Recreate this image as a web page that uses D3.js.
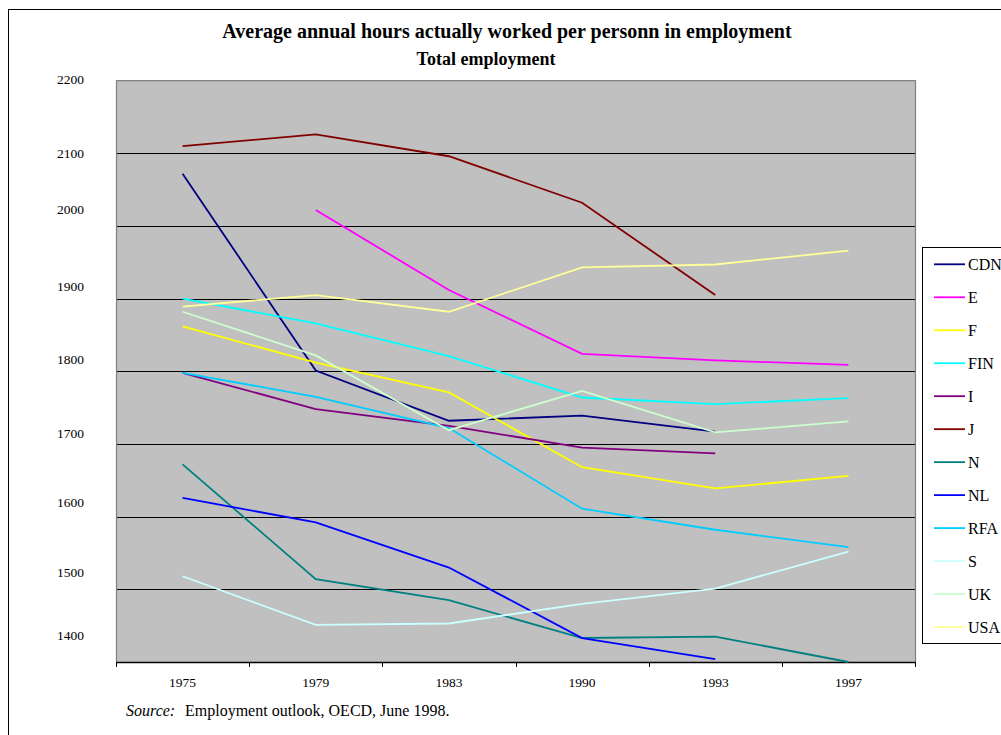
<!DOCTYPE html>
<html>
<head>
<meta charset="utf-8">
<script src="https://cdn.jsdelivr.net/npm/d3@7"></script>
<style>
  html, body { margin: 0; padding: 0; background: #fff; overflow: hidden; }
  svg { display: block; font-family: "Liberation Serif", "Times New Roman", serif; }
</style>
</head>
<body>
<svg id="chart" width="1001" height="735"></svg>
<script>
// Survey years on the category axis
const years = ["1975", "1979", "1983", "1990", "1993", "1997"];

// Country codes, in legend order
const countries = ["CDN", "E", "F", "FIN", "I", "J", "N", "NL", "RFA", "S", "UK", "USA"];

// Average annual hours per person in employment (null = not reported)
const hoursCDN = [2072, 1801, 1732, 1739, 1717, null];
const hoursE   = [null, 2022, 1912, 1824, 1815, 1809];
const hoursF   = [1862, 1812, 1771, 1668, 1639, 1656];
const hoursFIN = [1900, 1866, 1821, 1764, 1755, 1763];
const hoursI   = [1798, 1748, 1725, 1695, 1687, null];
const hoursJ   = [2110, 2126, 2096, 2032, 1905, null];
const hoursN   = [1672, 1514, 1485, 1433, 1435, 1400];
const hoursNL  = [1626, 1592, 1530, 1433, 1404, null];
const hoursRFA = [1798, 1765, 1722, 1611, 1582, 1558];
const hoursS   = [1518, 1451, 1453, 1480, 1501, 1552];
const hoursUK  = [1882, 1822, 1719, 1773, 1716, 1731];
const hoursUSA = [1889, 1905, 1882, 1943, 1947, 1966];

// Value-axis tick labels
const yTicks = [1400, 1500, 1600, 1700, 1800, 1900, 2000, 2100, 2200];

const seriesValues = [hoursCDN, hoursE, hoursF, hoursFIN, hoursI, hoursJ,
                      hoursN, hoursNL, hoursRFA, hoursS, hoursUK, hoursUSA];
const seriesColors = ["#000080", "#ff00ff", "#ffff00", "#00ffff", "#800080", "#800000",
                      "#008080", "#0000ff", "#00ccff", "#ccffff", "#ccffcc", "#ffff99"];

const series = countries.map((c, i) => ({
  name: c,
  color: seriesColors[i],
  values: years.map((y, j) => ({ year: y, value: seriesValues[i][j] }))
}));

const svg = d3.select("#chart");

// Outer frame of the chart sheet
svg.append("rect")
  .attr("x", 8.5).attr("y", 9.5)
  .attr("width", 1100).attr("height", 800)
  .attr("fill", "#fff").attr("stroke", "#000").attr("stroke-width", 1);

const plot = { left: 116, right: 915, top: 80.67, bottom: 662 };

const x = d3.scaleBand().domain(years).range([plot.left, plot.right]).paddingInner(0).paddingOuter(0);
const y = d3.scaleLinear().domain([1400, 2200]).range([plot.bottom, plot.top]);
const cx = d => x(d) + x.bandwidth() / 2;

// Plot background
svg.append("rect")
  .attr("x", plot.left).attr("y", plot.top)
  .attr("width", plot.right - plot.left).attr("height", plot.bottom - plot.top)
  .attr("fill", "#c0c0c0");

// Horizontal gridlines
svg.append("g").selectAll("line")
  .data(yTicks.filter(v => v > 1400 && v < 2200))
  .join("line")
  .attr("x1", plot.left).attr("x2", plot.right)
  .attr("y1", d => Math.round(y(d)) + 0.5).attr("y2", d => Math.round(y(d)) + 0.5)
  .attr("stroke", "#000").attr("stroke-width", 1);

// Plot border (left, top, right)
svg.append("path")
  .attr("d", `M${plot.left + 0.5},${plot.bottom}V${plot.top}H${plot.right + 0.5}V${plot.bottom}`)
  .attr("fill", "none").attr("stroke", "#808080").attr("stroke-width", 1.2);

// Value axis labels; the labels sit slightly off their gridlines
const labelNudge = { 2200: -1.4, 2100: 0, 2000: -17, 1900: -12, 1800: -12, 1700: -10.7, 1600: -14, 1500: -17, 1400: -27 };
const yAxis = svg.append("g")
  .attr("transform", `translate(${plot.left},0)`)
  .call(d3.axisLeft(y).tickValues(yTicks).tickSize(0).tickPadding(32).tickFormat(d3.format("d")));
yAxis.select(".domain").remove();
yAxis.selectAll(".tick text")
  .attr("font-size", 13.5).attr("font-family", "Liberation Serif").attr("fill", "#000")
  .attr("transform", d => `translate(0,${labelNudge[d]})`);

// Category axis
const xAxis = svg.append("g")
  .attr("transform", `translate(0,${plot.bottom})`)
  .call(d3.axisBottom(x).tickSize(0).tickPadding(15.3));
xAxis.select(".domain").remove();
xAxis.selectAll(".tick text")
  .attr("font-size", 13.5).attr("font-family", "Liberation Serif").attr("fill", "#000");

svg.append("line")
  .attr("x1", plot.left).attr("x2", plot.right + 1)
  .attr("y1", plot.bottom + 0.5).attr("y2", plot.bottom + 0.5)
  .attr("stroke", "#000").attr("stroke-width", 1.3);

// Tick marks at the category boundaries
const edges = years.map(d => x(d)).concat([plot.right]);
svg.append("g").selectAll("line")
  .data(edges)
  .join("line")
  .attr("x1", d => Math.round(d) + 0.5).attr("x2", d => Math.round(d) + 0.5)
  .attr("y1", plot.bottom).attr("y2", plot.bottom + 5)
  .attr("stroke", "#000").attr("stroke-width", 1);

// Series lines
const line = d3.line()
  .defined(d => d.value != null)
  .x(d => cx(d.year))
  .y(d => y(d.value));

svg.append("g").selectAll("path")
  .data(series)
  .join("path")
  .attr("d", d => line(d.values))
  .attr("fill", "none")
  .attr("stroke", d => d.color)
  .attr("stroke-width", 1.8)
  .attr("stroke-linejoin", "miter");

// Titles
svg.append("text")
  .attr("x", 507).attr("y", 37.5)
  .attr("text-anchor", "middle")
  .attr("font-size", 20).attr("font-weight", "bold")
  .text("Average annual hours actually worked per personn in employment");

svg.append("text")
  .attr("x", 486).attr("y", 65)
  .attr("text-anchor", "middle")
  .attr("font-size", 18).attr("font-weight", "bold")
  .text("Total employment");

// Source note
const src = svg.append("text")
  .attr("x", 126).attr("y", 716)
  .attr("font-size", 16);
src.append("tspan").attr("font-style", "italic").text("Source:");
src.append("tspan").attr("x", 185).text("Employment outlook, OECD, June 1998.");

// Legend
const legend = svg.append("g");
legend.append("rect")
  .attr("x", 922.5).attr("y", 247.5)
  .attr("width", 120).attr("height", 396)
  .attr("fill", "#fff").attr("stroke", "#000").attr("stroke-width", 1);

const legendY = d3.scalePoint().domain(countries).range([264.3, 627]);
const items = legend.selectAll("g.item")
  .data(series)
  .join("g")
  .attr("class", "item")
  .attr("transform", d => `translate(0,${legendY(d.name)})`);
items.append("line")
  .attr("x1", 934).attr("x2", 965)
  .attr("stroke", d => d.color).attr("stroke-width", 1.8);
items.append("text")
  .attr("x", 968).attr("dy", "0.35em")
  .attr("font-size", 16)
  .text(d => d.name);
</script>
</body>
</html>
